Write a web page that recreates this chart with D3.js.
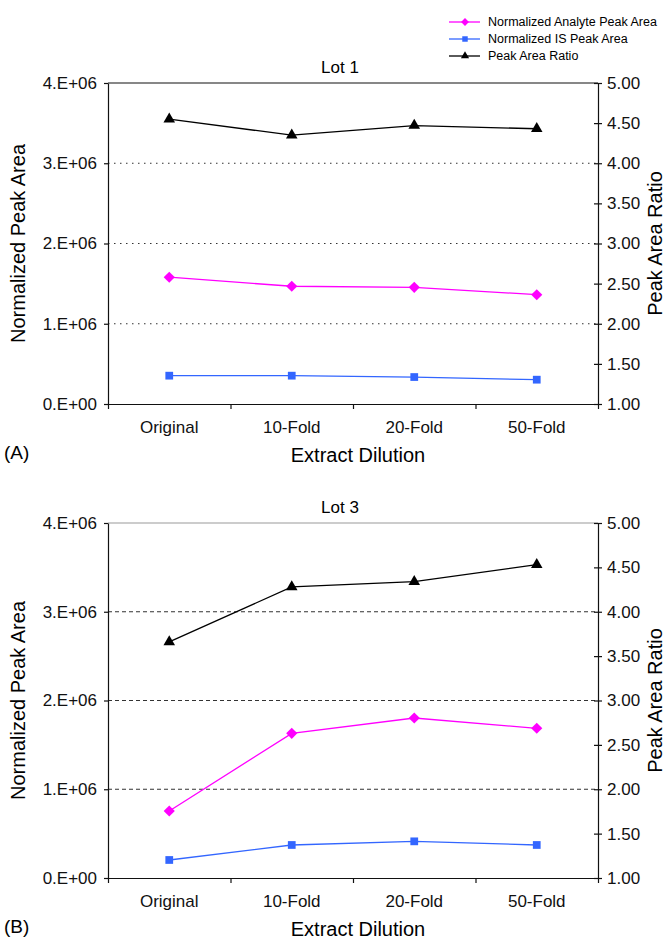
<!DOCTYPE html>
<html lang="en">
<head>
<meta charset="utf-8">
<title>Extract Dilution - Lot 1 / Lot 3</title>
<script src="https://d3js.org/d3.v7.min.js"></script>
<style>
  body { margin: 0; background: #fff; }
  svg { display: block; font-family: "Liberation Sans", Arial, sans-serif; }
  .tick text { fill: #111; }
</style>
</head>
<body>
<div id="chart"></div>
<script>
// Data
var categories = ["Original", "10-Fold", "20-Fold", "50-Fold"];

var lot1Analyte = [1.58e6, 1.467e6, 1.454e6, 1.362e6];
var lot1IS      = [0.353e6, 0.353e6, 0.336e6, 0.303e6];
var lot1Ratio   = [4.55, 4.35, 4.47, 4.43];

var lot3Analyte = [0.755e6, 1.63e6, 1.803e6, 1.687e6];
var lot3IS      = [0.203e6, 0.372e6, 0.413e6, 0.372e6];
var lot3Ratio   = [3.66, 4.28, 4.34, 4.53];

var leftTicks  = [0, 1e6, 2e6, 3e6, 4e6];
var leftLabels = ["0.E+00", "1.E+06", "2.E+06", "3.E+06", "4.E+06"];
var rightTicks = [1, 1.5, 2, 2.5, 3, 3.5, 4, 4.5, 5];

var seriesNames = ["Normalized Analyte Peak Area", "Normalized IS Peak Area", "Peak Area Ratio"];

var W = 671, H = 939;
var svg = d3.select("#chart").append("svg")
    .attr("width", W).attr("height", H);
svg.append("rect").attr("width", W).attr("height", H).attr("fill", "#fff");

var colors = { analyte: "#ff00ff", is: "#3366ff", ratio: "#000" };

// marker shapes (diamond = square turned 45deg)
var shapes = { analyte: d3.symbolSquare, is: d3.symbolSquare, ratio: d3.symbolTriangle };
var sizes = { analyte: 62, is: 60, ratio: 58 };
var turn = { analyte: 45, is: 0, ratio: 0 };

function drawPanel(opts) {
    var left = 108, right = 598, top = opts.top, bottom = opts.bottom;

    var x = d3.scaleBand().domain(categories).range([left, right]);
    var xb = d3.scaleLinear().domain([0, categories.length]).range([left, right]);
    var y = d3.scaleLinear().domain([0, 4e6]).range([bottom, top]);
    var y2 = d3.scaleLinear().domain([1, 5]).range([bottom, top]);
    var cx = function(d, i) { return x(categories[i]) + x.bandwidth() / 2; };

    var g = svg.append("g");

    // gridlines
    g.selectAll(".grid")
        .data([1e6, 2e6, 3e6])
        .enter().append("line")
        .attr("x1", left).attr("x2", right)
        .attr("y1", y).attr("y2", y)
        .attr("stroke", "#333")
        .attr("stroke-width", 1.2)
        .attr("stroke-dasharray", opts.dash);

    // top border
    g.append("line")
        .attr("x1", left).attr("x2", right)
        .attr("y1", y(4e6)).attr("y2", y(4e6))
        .attr("stroke", opts.topColor).attr("stroke-width", 1.2);

    // left axis
    var ax = g.append("g")
        .attr("transform", "translate(" + left + ",0)")
        .call(d3.axisLeft(y).tickValues(leftTicks)
            .tickFormat(function(d, i) { return leftLabels[i]; })
            .tickSize(4).tickSizeOuter(0).tickPadding(7));
    ax.selectAll("text").style("font-size", "17px");
    ax.selectAll("line, path").attr("stroke", "#111").attr("stroke-width", 1.2);

    // right axis (ticks cross the axis)
    var ar = g.append("g")
        .attr("transform", "translate(" + right + ",0)")
        .call(d3.axisRight(y2).tickValues(rightTicks)
            .tickFormat(d3.format(".2f"))
            .tickSize(4).tickSizeOuter(0).tickPadding(5));
    ar.selectAll(".tick line").attr("x1", -4);
    ar.selectAll("text").style("font-size", "17px");
    ar.selectAll("line, path").attr("stroke", "#111").attr("stroke-width", 1.2);

    // bottom axis: ticks at category boundaries
    var ab = g.append("g")
        .attr("transform", "translate(0," + bottom + ")")
        .call(d3.axisBottom(xb).tickValues(d3.range(categories.length + 1))
            .tickFormat("").tickSize(5).tickSizeOuter(0));
    ab.selectAll("line, path").attr("stroke", "#111").attr("stroke-width", 1.2);

    // category labels
    var al = g.append("g")
        .attr("transform", "translate(0," + bottom + ")")
        .call(d3.axisBottom(x).tickSize(0).tickPadding(17));
    al.select(".domain").remove();
    al.selectAll("text").style("font-size", "17px");

    // series
    var series = [
        { key: "analyte", values: opts.analyte, scale: y },
        { key: "is", values: opts.is, scale: y },
        { key: "ratio", values: opts.ratio, scale: y2 }
    ];
    series.forEach(function(s) {
        var line = d3.line()
            .x(cx)
            .y(function(d) { return s.scale(d); });
        g.append("path")
            .datum(s.values)
            .attr("d", line)
            .attr("fill", "none")
            .attr("stroke", colors[s.key])
            .attr("stroke-width", 1.3);
        g.selectAll(".m-" + s.key)
            .data(s.values)
            .enter().append("path")
            .attr("d", d3.symbol().type(shapes[s.key]).size(sizes[s.key]))
            .attr("transform", function(d, i) {
                return "translate(" + cx(d, i) + "," + s.scale(d) + ") rotate(" + turn[s.key] + ")";
            })
            .attr("fill", colors[s.key]);
    });

    // titles
    g.append("text")
        .attr("x", 340).attr("y", top - 10)
        .attr("text-anchor", "middle")
        .style("font-size", "17px")
        .text(opts.title);

    g.append("text")
        .attr("transform", "translate(25," + (top + bottom) / 2 + ") rotate(-90)")
        .attr("text-anchor", "middle")
        .style("font-size", "20px")
        .text("Normalized Peak Area");

    g.append("text")
        .attr("transform", "translate(662," + (top + bottom) / 2 + ") rotate(-90)")
        .attr("text-anchor", "middle")
        .style("font-size", "20px")
        .text("Peak Area Ratio");

    g.append("text")
        .attr("x", 358).attr("y", bottom + 58)
        .attr("text-anchor", "middle")
        .style("font-size", "20px")
        .text("Extract Dilution");

    g.append("text")
        .attr("x", 4).attr("y", bottom + 55)
        .style("font-size", "19px")
        .text(opts.letter);
}

drawPanel({ top: 83, bottom: 404, title: "Lot 1", letter: "(A)", dash: "1.5,4.5", topColor: "#111",
    analyte: lot1Analyte, is: lot1IS, ratio: lot1Ratio });
drawPanel({ top: 523, bottom: 878, title: "Lot 3", letter: "(B)", dash: "4,3", topColor: "#999",
    analyte: lot3Analyte, is: lot3IS, ratio: lot3Ratio });

// legend
var legendKeys = ["analyte", "is", "ratio"];
var legend = svg.append("g").attr("transform", "translate(449,22)");
legendKeys.forEach(function(k, i) {
    var row = legend.append("g").attr("transform", "translate(0," + i * 17 + ")");
    row.append("line").attr("x1", 0).attr("x2", 31)
        .attr("stroke", colors[k]).attr("stroke-width", 1.3);
    row.append("path").attr("d", d3.symbol().type(shapes[k]).size(sizes[k] / 2))
        .attr("transform", "translate(16,0) rotate(" + turn[k] + ")").attr("fill", colors[k]);
    row.append("text").attr("x", 39).attr("dy", "0.35em")
        .style("font-size", "12.5px").text(seriesNames[i]);
});
</script>
</body>
</html>
